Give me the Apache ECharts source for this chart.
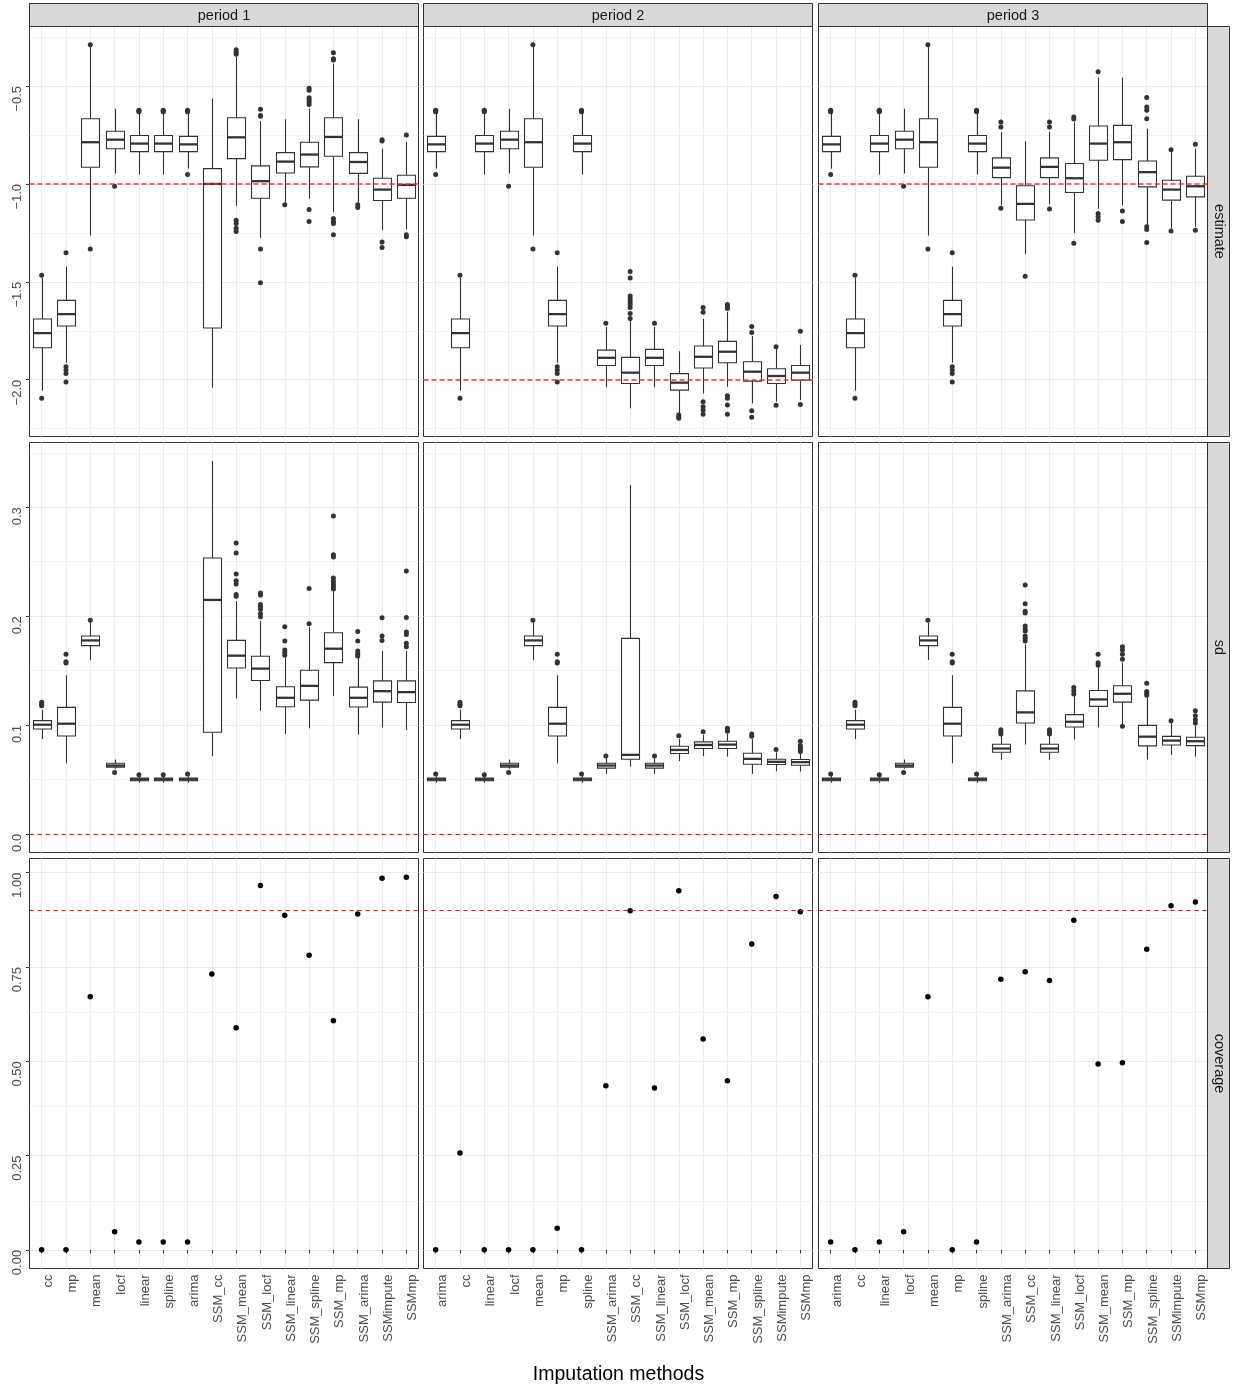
<!DOCTYPE html>
<html><head><meta charset="utf-8">
<script src="https://cdn.jsdelivr.net/npm/echarts@6/dist/echarts.min.js"></script>
<style>html,body{margin:0;padding:0;background:#fff}#c{width:1233px;height:1388px}</style>
</head><body><div id="c"></div>
<script>
// ---------- categories ----------
const methodsP1 = ['cc','mp','mean','locf','linear','spline','arima','SSM_cc','SSM_mean','SSM_locf','SSM_linear','SSM_spline','SSM_mp','SSM_arima','SSMimpute','SSMmp'];
const methodsP23 = ['arima','cc','linear','locf','mean','mp','spline','SSM_arima','SSM_cc','SSM_linear','SSM_locf','SSM_mean','SSM_mp','SSM_spline','SSMimpute','SSMmp'];
const periods = ['period 1','period 2','period 3'];
const rowNames = ['estimate','sd','coverage'];

// ---------- estimate: [lower whisker, Q1, median, Q3, upper whisker] ----------
const estBoxP1 = [
  [-2.056,-1.837,-1.762,-1.690,-1.480],[-1.913,-1.726,-1.665,-1.595,-1.423],[-1.264,-0.915,-0.787,-0.667,-0.300],
  [-0.947,-0.820,-0.774,-0.731,-0.616],[-0.952,-0.835,-0.794,-0.753,-0.641],[-0.952,-0.835,-0.794,-0.753,-0.641],
  [-0.922,-0.835,-0.798,-0.757,-0.641],[-2.041,-1.736,-1.000,-0.922,-0.565],[-1.112,-0.871,-0.762,-0.662,-0.352],
  [-1.276,-1.073,-0.986,-0.908,-0.679],[-1.095,-0.944,-0.886,-0.840,-0.670],[-1.075,-0.913,-0.850,-0.787,-0.616],
  [-1.143,-0.859,-0.760,-0.662,-0.386],[-1.095,-0.946,-0.888,-0.840,-0.670],[-1.236,-1.085,-1.029,-0.971,-0.820],
  [-1.233,-1.073,-1.005,-0.956,-0.786]];
const estOutP1 = [
  [-1.466,-2.095],[-1.352,-1.934,-1.951,-1.968,-2.012],[-0.289,-1.332],[-1.012],[-0.624,-0.628,-0.632],[-0.624,-0.628,-0.632],
  [-0.624,-0.628,-0.632,-0.952],[],[-0.315,-0.327,-0.338,-1.185,-1.202,-1.226,-1.243],[-0.619,-0.650,-0.655,-1.332,-1.505],
  [-1.107],[-0.512,-0.522,-0.560,-0.570,-0.582,-0.595,-1.131,-1.192],[-0.330,-0.361,-0.367,-1.177,-1.192,-1.202,-1.259],
  [-1.107,-1.121],[-0.774,-0.781,-1.296,-1.325],[-0.750,-1.259,-1.270]];
const estBoxP2 = [
  [-0.922,-0.835,-0.798,-0.757,-0.641],[-2.056,-1.837,-1.762,-1.690,-1.480],[-0.952,-0.835,-0.794,-0.753,-0.641],
  [-0.947,-0.820,-0.774,-0.731,-0.616],[-1.264,-0.915,-0.787,-0.667,-0.300],[-1.913,-1.726,-1.665,-1.595,-1.423],
  [-0.952,-0.835,-0.794,-0.753,-0.641],[-2.039,-1.927,-1.888,-1.849,-1.730],[-2.146,-2.019,-1.964,-1.886,-1.696],
  [-2.039,-1.927,-1.888,-1.845,-1.730],[-2.170,-2.053,-2.015,-1.969,-1.854],[-2.070,-1.940,-1.883,-1.828,-1.690],
  [-2.036,-1.913,-1.857,-1.804,-1.653],[-2.121,-2.007,-1.959,-1.908,-1.777],[-2.112,-2.019,-1.981,-1.944,-1.840],
  [-2.104,-2.002,-1.964,-1.927,-1.823]];
const estOutP2 = [
  [-0.624,-0.628,-0.632,-0.952],[-1.466,-2.095],[-0.624,-0.628,-0.632],[-1.012],[-0.289,-1.332],[-1.352,-1.934,-1.951,-1.968,-2.012],
  [-0.624,-0.628,-0.632],[-1.711],[-1.447,-1.480,-1.573,-1.588,-1.602,-1.614,-1.631,-1.662,-1.687],[-1.711],
  [-2.180,-2.189,-2.197],[-1.631,-1.656,-2.112,-2.138,-2.155,-2.177],[-1.616,-1.628,-1.636,-2.082,-2.095,-2.129,-2.177],
  [-1.728,-1.759,-2.158,-2.192],[-1.832,-2.131],[-1.753,-2.126]];
const estBoxP3 = [
  [-0.922,-0.835,-0.798,-0.757,-0.641],[-2.056,-1.837,-1.762,-1.690,-1.480],[-0.952,-0.835,-0.794,-0.753,-0.641],
  [-0.947,-0.820,-0.774,-0.731,-0.616],[-1.264,-0.915,-0.787,-0.667,-0.300],[-1.913,-1.726,-1.665,-1.595,-1.423],
  [-0.952,-0.835,-0.794,-0.753,-0.641],[-1.109,-0.968,-0.917,-0.867,-0.735],[-1.359,-1.184,-1.102,-1.009,-0.782],
  [-1.104,-0.968,-0.913,-0.867,-0.735],[-1.250,-1.044,-0.971,-0.896,-0.685],[-1.126,-0.879,-0.794,-0.704,-0.457],
  [-1.109,-0.876,-0.787,-0.701,-0.457],[-1.211,-1.015,-0.940,-0.883,-0.718],[-1.228,-1.083,-1.029,-0.981,-0.835],
  [-1.219,-1.066,-1.012,-0.961,-0.820]];
const estOutP3 = [
  [-0.624,-0.628,-0.632,-0.952],[-1.466,-2.095],[-0.624,-0.628,-0.632],[-1.012],[-0.289,-1.332],[-1.352,-1.934,-1.951,-1.968,-2.012],
  [-0.624,-0.628,-0.632],[-0.684,-0.709,-1.124],[-1.471],[-0.684,-0.709,-1.128],[-0.658,-0.668,-1.303],
  [-0.427,-1.151,-1.168,-1.185],[-1.138,-1.192],[-0.558,-0.607,-0.624,-0.667,-1.219,-1.233,-1.299],[-0.825,-1.240],[-0.798,-1.236]];

// ---------- sd ----------
const sdBoxP1 = [
  [0.0872,0.0963,0.1003,0.1040,0.1140],[0.0649,0.0899,0.1012,0.1162,0.1457],[0.1598,0.1729,0.1777,0.1817,0.1940],
  [0.0598,0.0613,0.0628,0.0649,0.0683],[0.0470,0.0488,0.0500,0.0512,0.0530],[0.0470,0.0488,0.0500,0.0512,0.0530],
  [0.0470,0.0488,0.0500,0.0512,0.0530],[0.0713,0.0933,0.2149,0.2534,0.3424],[0.1244,0.1524,0.1637,0.1777,0.2137],
  [0.1131,0.1409,0.1518,0.1631,0.1954],[0.0918,0.1168,0.1250,0.1351,0.1619],[0.0970,0.1229,0.1360,0.1503,0.1900],
  [0.1268,0.1573,0.1701,0.1848,0.2229],[0.0912,0.1165,0.1250,0.1348,0.1619],[0.0976,0.1210,0.1311,0.1405,0.1680],
  [0.0954,0.1207,0.1302,0.1405,0.1677]];
const sdOutP1 = [
  [0.1177,0.1190,0.1210],[0.1570,0.1580,0.1650],[0.1963],[0.0564],[0.0543],[0.0543],[0.0549],[],
  [0.2183,0.2198,0.2296,0.2326,0.2387,0.2579,0.2671],[0.1994,0.2021,0.2061,0.2085,0.2107,0.2195,0.2213],
  [0.1640,0.1665,0.1689,0.1771,0.1902],[0.1930,0.2253],[0.2250,0.2274,0.2296,0.2320,0.2351,0.2543,0.2564,0.2921],
  [0.1634,0.1655,0.1680,0.1771,0.1860],[0.1777,0.1817,0.1985],[0.1720,0.1750,0.1832,0.1854,0.1988,0.2415]];
const sdBoxP2 = [
  [0.0470,0.0488,0.0500,0.0512,0.0530],[0.0872,0.0963,0.1003,0.1040,0.1140],[0.0470,0.0488,0.0500,0.0512,0.0530],
  [0.0598,0.0613,0.0628,0.0649,0.0683],[0.1598,0.1729,0.1777,0.1817,0.1940],[0.0649,0.0899,0.1012,0.1162,0.1457],
  [0.0470,0.0488,0.0500,0.0512,0.0530],[0.0552,0.0604,0.0628,0.0649,0.0695],[0.0619,0.0686,0.0726,0.1796,0.3204],
  [0.0552,0.0604,0.0628,0.0649,0.0695],[0.0668,0.0738,0.0771,0.0805,0.0872],[0.0713,0.0784,0.0817,0.0845,0.0909],
  [0.0710,0.0784,0.0820,0.0851,0.0918],[0.0552,0.0640,0.0689,0.0741,0.0872],[0.0576,0.0637,0.0662,0.0686,0.0750],
  [0.0573,0.0631,0.0659,0.0683,0.0735]];
const sdOutP2 = [
  [0.0549],[0.1177,0.1190,0.1210],[0.0543],[0.0564],[0.1963],[0.1570,0.1580,0.1650],[0.0549],[0.0716],[],[0.0716],
  [0.0902],[0.0939],[0.0942,0.0957,0.0970],[0.0896,0.0918],[0.0774],[0.0756,0.0774,0.0793,0.0811,0.0851]];
const sdBoxP3 = [
  [0.0470,0.0488,0.0500,0.0512,0.0530],[0.0872,0.0963,0.1003,0.1040,0.1140],[0.0470,0.0488,0.0500,0.0512,0.0530],
  [0.0598,0.0613,0.0628,0.0649,0.0683],[0.1598,0.1729,0.1777,0.1817,0.1940],[0.0649,0.0899,0.1012,0.1162,0.1457],
  [0.0470,0.0488,0.0500,0.0512,0.0530],[0.0680,0.0750,0.0784,0.0823,0.0902],[0.0820,0.1018,0.1116,0.1314,0.1741],
  [0.0680,0.0750,0.0784,0.0823,0.0902],[0.0866,0.0982,0.1030,0.1095,0.1268],[0.0979,0.1171,0.1235,0.1317,0.1527],
  [0.1009,0.1210,0.1287,0.1360,0.1573],[0.0683,0.0808,0.0893,0.0997,0.1253],[0.0726,0.0817,0.0857,0.0896,0.1025],
  [0.0710,0.0811,0.0851,0.0887,0.0994]];
const sdOutP3 = [
  [0.0549],[0.1177,0.1190,0.1210],[0.0543],[0.0564],[0.1963],[0.1570,0.1580,0.1650],[0.0549],
  [0.0918,0.0939,0.0957],[0.1771,0.1796,0.1817,0.1863,0.1884,0.1909,0.2030,0.2046,0.2113,0.2287],[0.0918,0.0939,0.0957],
  [0.1284,0.1314,0.1345],[0.1549,0.1573,0.1649],[0.0988,0.1604,0.1649,0.1689,0.1720],[0.1274,0.1293,0.1308,0.1384],
  [0.1040],[0.1018,0.1049,0.1085,0.1131]];

// ---------- coverage ----------
const covP1 = [0.000,0.000,0.671,0.048,0.021,0.021,0.021,0.731,0.589,0.966,0.887,0.781,0.607,0.890,0.985,0.988];
const covP2 = [0.000,0.257,0.000,0.000,0.000,0.057,0.000,0.435,0.899,0.429,0.952,0.559,0.448,0.811,0.937,0.896];
const covP3 = [0.021,0.000,0.021,0.048,0.671,0.000,0.021,0.717,0.737,0.714,0.874,0.493,0.496,0.797,0.912,0.922];

// ---------- reference values & axis ticks ----------
const refEstimate = [-1, -2, -1];
const refSd = [0, 0, 0];
const refCoverage = [0.9, 0.9, 0.9];
const estTicks = [-2.0, -1.5, -1.0, -0.5];
const estMinor = [-2.25, -1.75, -1.25, -0.75, -0.25];
const sdTicks = [0.0, 0.1, 0.2, 0.3];
const sdMinor = [0.05, 0.15, 0.25, 0.35];
const covTicks = [0.00, 0.25, 0.50, 0.75, 1.00];
const covMinor = [0.125, 0.375, 0.625, 0.875];
const estRange = [-2.29, -0.196];
const sdRange = [-0.0171, 0.3595];
const covRange = [-0.0494, 1.0374];

// ---------- layout ----------
const FONT = '"Liberation Sans", Arial, Helvetica, sans-serif';
const colLeft = [29.5, 423.5, 818.5];
const colW = 389;
const rowTop = [26.5, 442.5, 858.5];
const rowH = 410;
const stripTop = 3.5, stripH = 23;
const rStripX = 1207.5, rStripW = 22;

const catsByCol = [methodsP1, methodsP23, methodsP23];
const boxData = [[estBoxP1, estBoxP2, estBoxP3], [sdBoxP1, sdBoxP2, sdBoxP3]];
const outData = [[estOutP1, estOutP2, estOutP3], [sdOutP1, sdOutP2, sdOutP3]];
const covData = [covP1, covP2, covP3];
const yRanges = [estRange, sdRange, covRange];
const yMajor = [estTicks, sdTicks, covTicks];
const yMinor = [estMinor, sdMinor, covMinor];
const refs = [refEstimate, refSd, refCoverage];
const fmts = [
  v => (v < 0 ? '\u2212' : '') + Math.abs(v).toFixed(1),
  v => Number(v).toFixed(1),
  v => Number(v).toFixed(2)
];

function renderBox(params, api) {
  const x = api.value(0);
  const lo = api.coord([x, api.value(1)]);
  const q1 = api.coord([x, api.value(2)]);
  const md = api.coord([x, api.value(3)]);
  const q3 = api.coord([x, api.value(4)]);
  const hi = api.coord([x, api.value(5)]);
  const bw = Math.round(api.size([1, 0])[0] * 0.75);
  const cx = Math.round(lo[0]) + 0.5;
  const ln = {stroke: '#333333', lineWidth: 1.1};
  return {type: 'group', children: [
    {type: 'line', shape: {x1: cx, y1: hi[1], x2: cx, y2: q3[1]}, style: ln},
    {type: 'line', shape: {x1: cx, y1: q1[1], x2: cx, y2: lo[1]}, style: ln},
    {type: 'rect', shape: {x: cx - bw / 2, y: q3[1], width: bw, height: q1[1] - q3[1]},
      style: {fill: '#ffffff', stroke: '#333333', lineWidth: 1.1}},
    {type: 'line', shape: {x1: cx - bw / 2, y1: md[1], x2: cx + bw / 2, y2: md[1]},
      style: {stroke: '#333333', lineWidth: 2.3}}
  ]};
}

const grids = [], xAxes = [], yAxes = [], series = [], graphics = [];
for (let r = 0; r < 3; r++) {
  for (let c = 0; c < 3; c++) {
    const idx = r * 3 + c;
    const cats = catsByCol[c];
    grids.push({left: colLeft[c], top: rowTop[r], width: colW, height: rowH,
      show: true, borderColor: '#333333', borderWidth: 1, backgroundColor: '#ffffff',
      containLabel: false, outerBoundsMode: 'none'});
    xAxes.push({gridIndex: idx, type: 'category', data: cats, boundaryGap: true,
      axisLine: {show: false}, splitLine: {show: false},
      axisTick: {show: r === 2, alignWithLabel: true, interval: 0, length: 3.5, lineStyle: {color: '#333333', width: 1}},
      axisLabel: {show: r === 2, interval: 0, rotate: 90, verticalAlign: 'top', margin: 6,
        color: '#4D4D4D', fontSize: 13, fontFamily: FONT}});
    yAxes.push({gridIndex: idx, type: 'value', min: yRanges[r][0], max: yRanges[r][1],
      axisLine: {show: false}, splitLine: {show: false}, minorSplitLine: {show: false},
      axisTick: {show: c === 0, customValues: yMajor[r], length: 3.5, lineStyle: {color: '#333333', width: 1}},
      axisLabel: {show: c === 0, customValues: yMajor[r], formatter: fmts[r], rotate: 90,
        align: 'right', verticalAlign: 'bottom', margin: 6, color: '#4D4D4D', fontSize: 13, fontFamily: FONT}});

    // panel grid lines (kept beneath every mark)
    const gl = [];
    cats.forEach(cat => gl.push({xAxis: cat, lineStyle: {color: '#EBEBEB', width: 1.1, type: 'solid'}}));
    yMinor[r].forEach(v => gl.push({yAxis: v, lineStyle: {color: '#EBEBEB', width: 0.55, type: 'solid'}}));
    yMajor[r].forEach(v => gl.push({yAxis: v, lineStyle: {color: '#EBEBEB', width: 1.1, type: 'solid'}}));
    series.push({type: 'scatter', xAxisIndex: idx, yAxisIndex: idx, data: [], z: 0, silent: true,
      markLine: {z: 0, zlevel: 0, silent: true, symbol: ['none', 'none'], label: {show: false}, animation: false,
        emphasis: {disabled: true}, data: gl}});

    const dotStyle = (col) => ({color: col, opacity: 1, borderWidth: 0, borderColor: col, shadowBlur: 0});
    if (r < 2) {
      series.push({type: 'custom', xAxisIndex: idx, yAxisIndex: idx, silent: true, z: 6,
        renderItem: renderBox, encode: {x: 0, y: [1, 2, 3, 4, 5]},
        data: boxData[r][c].map((b, i) => [i].concat(b))});
      const pts = [];
      outData[r][c].forEach((arr, i) => arr.forEach(v => pts.push([i, v])));
      series.push({type: 'scatter', xAxisIndex: idx, yAxisIndex: idx, silent: true, z: 7,
        symbol: 'circle', symbolSize: 5, itemStyle: dotStyle('#333333'),
        emphasis: {disabled: true}, data: pts});
    } else {
      series.push({type: 'scatter', xAxisIndex: idx, yAxisIndex: idx, silent: true, z: 7,
        symbol: 'circle', symbolSize: 5.5, itemStyle: dotStyle('#000000'),
        emphasis: {disabled: true}, data: covData[c].map((v, i) => [i, v])});
    }

    // reference line (on top)
    const refStyle = r === 0
      ? {color: 'rgba(255,40,40,0.72)', width: 1.9, type: [5, 3]}
      : {color: '#FF0000', width: 1.05, type: [4, 4]};
    series.push({type: 'scatter', xAxisIndex: idx, yAxisIndex: idx, data: [], z: 9, silent: true,
      markLine: {z: 9, silent: true, symbol: ['none', 'none'], label: {show: false}, animation: false,
        emphasis: {disabled: true}, lineStyle: refStyle, data: [{yAxis: refs[r][c]}]}});
  }
}

// strips
for (let c = 0; c < 3; c++) {
  graphics.push({type: 'rect', z: 10, shape: {x: colLeft[c], y: stripTop, width: colW, height: stripH},
    style: {fill: '#D9D9D9', stroke: '#333333', lineWidth: 1}});
  graphics.push({type: 'text', z: 11, x: colLeft[c] + colW / 2, y: stripTop + stripH / 2 + 0.5,
    style: {text: periods[c], fill: '#1A1A1A', fontSize: 14.5, fontFamily: FONT, align: 'center', verticalAlign: 'middle'}});
}
for (let r = 0; r < 3; r++) {
  graphics.push({type: 'rect', z: 10, shape: {x: rStripX, y: rowTop[r], width: rStripW, height: rowH},
    style: {fill: '#D9D9D9', stroke: '#333333', lineWidth: 1}});
  graphics.push({type: 'text', z: 11, x: rStripX + rStripW / 2, y: rowTop[r] + rowH / 2, rotation: -Math.PI / 2,
    style: {text: rowNames[r], fill: '#1A1A1A', fontSize: 14.5, fontFamily: FONT, align: 'center', verticalAlign: 'middle'}});
}
graphics.push({type: 'text', z: 11, x: colLeft[0] + (colLeft[2] + colW - colLeft[0]) / 2, y: 1375,
  style: {text: 'Imputation methods', fill: '#000000', fontSize: 19.5, fontFamily: FONT, align: 'center', verticalAlign: 'middle'}});

const chart = echarts.init(document.getElementById('c'), null, {renderer: 'canvas'});
chart.setOption({
  animation: false,
  backgroundColor: '#ffffff',
  textStyle: {fontFamily: FONT},
  grid: grids, xAxis: xAxes, yAxis: yAxes, series: series, graphic: graphics
});
</script>
</body></html>
